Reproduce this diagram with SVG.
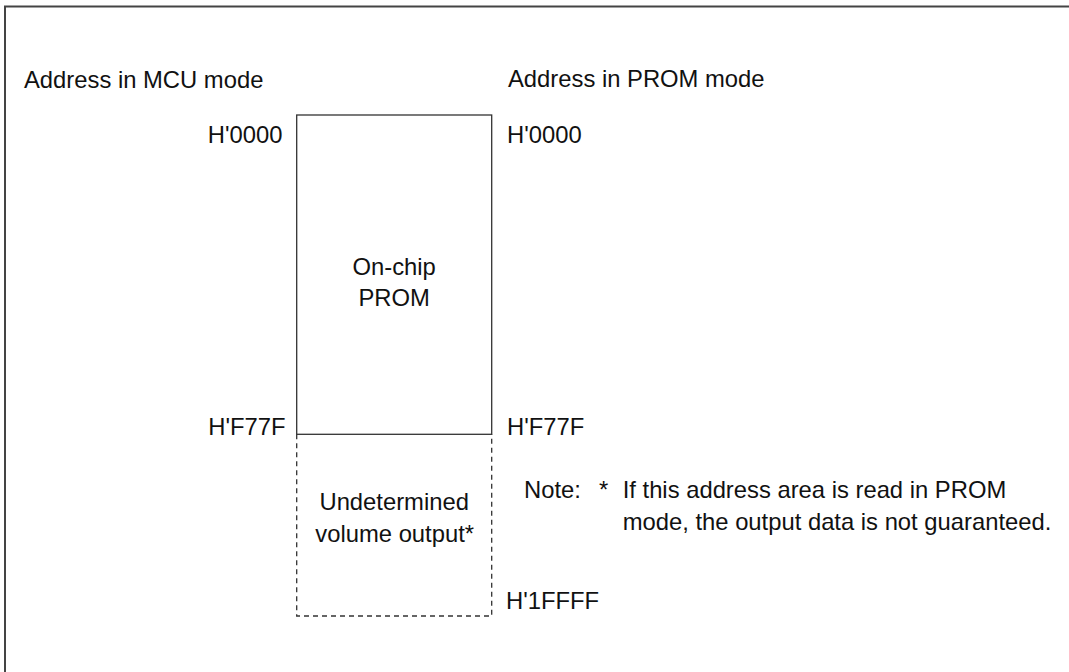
<svg xmlns="http://www.w3.org/2000/svg" width="1069" height="672" viewBox="0 0 1069 672">
<style>
text{font-family:"Liberation Sans",Arial,sans-serif;font-size:23.8px;fill:#111}
.mid{text-anchor:middle}
.end{text-anchor:end}
.solid{fill:none;stroke:#333;stroke-width:1.3}
.dash{fill:none;stroke:#333;stroke-width:1.3;stroke-dasharray:5,4}
</style>
<rect width="1069" height="672" fill="#fff"/>
<g id="frame">
<polyline points="5,672 5,6.5 1069,6.5" fill="none" stroke="#444" stroke-width="2"/>
</g>
<g id="headers">
<text x="24" y="88">Address in MCU mode</text>
<text x="508" y="87">Address in PROM mode</text>
</g>
<g id="prom">
<rect class="solid" x="296.7" y="115" width="195" height="319.3"/>
<text class="mid" x="394.2" y="275">On-chip</text>
<text class="mid" x="394.2" y="306">PROM</text>
</g>
<g id="undetermined">
<polyline class="dash" points="296.7,434.3 296.7,616 491.7,616 491.7,434.3"/>
<text class="mid" x="394.2" y="510">Undetermined</text>
<text class="mid" x="394.7" y="541.5">volume output*</text>
</g>
<g id="labels">
<text class="end" x="282.5" y="142.5">H'0000</text>
<text x="507" y="142.5">H'0000</text>
<text class="end" x="285.5" y="434.5">H'F77F</text>
<text x="507" y="434.5">H'F77F</text>
<text x="506" y="609">H'1FFFF</text>
</g>
<g id="note">
<text x="524" y="498.3">Note:</text>
<text x="599" y="498.3">*</text>
<text x="622.7" y="498.3">If this address area is read in PROM</text>
<text x="622.7" y="530">mode, the output data is not guaranteed.</text>
</g>
<g id="connectors"></g>
</svg>
